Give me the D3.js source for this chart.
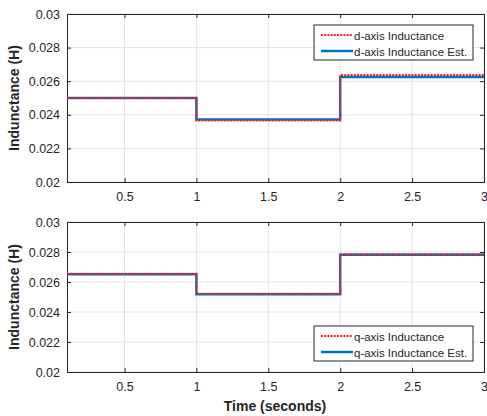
<!DOCTYPE html>
<html>
<head>
<meta charset="utf-8">
<script src="https://cdn.jsdelivr.net/npm/d3@7"></script>
<style>
body { margin: 0; background: #fff; }
svg { font-family: Arial, "Liberation Sans", sans-serif; }
</style>
</head>
<body>
<div id="chart"></div>
<script>
// step times (seconds)
const timeSteps = [0.1, 1, 2, 3];
// d-axis inductance per segment
const dRef = [0.0250, 0.02365, 0.02637];
const dEst = [0.0250, 0.02372, 0.02625];
// q-axis inductance per segment
const qRef = [0.02655, 0.02522, 0.02785];
const qEst = [0.02652, 0.02518, 0.02782];
const xTicks = [0.5, 1, 1.5, 2, 2.5, 3];
const yTicks = [0.02, 0.022, 0.024, 0.026, 0.028, 0.03];

const W = 487, H = 416;
const svg = d3.select("#chart").append("svg").attr("width", W).attr("height", H);

const x = d3.scaleLinear().domain([0.1, 3]).range([67, 484]);

function toSteps(vals) {
	const pts = [];
	vals.forEach((v, i) => {
		pts.push({t: timeSteps[i], v});
		pts.push({t: timeSteps[i + 1], v});
	});
	return pts;
}

function panel(top, bottom, ref, est, names, legendY, showXLabel) {
	const y = d3.scaleLinear().domain([0.02, 0.03]).range([bottom, top]);
	const g = svg.append("g");
	const [x0, x1] = x.range();

	// grid
	g.selectAll(".gx").data(xTicks).join("line")
		.attr("x1", d => x(d)).attr("x2", d => x(d))
		.attr("y1", top).attr("y2", bottom)
		.attr("stroke", "#e3e3e3").attr("stroke-width", 1);
	g.selectAll(".gy").data(yTicks).join("line")
		.attr("x1", x0).attr("x2", x1)
		.attr("y1", d => y(d)).attr("y2", d => y(d))
		.attr("stroke", "#e3e3e3").attr("stroke-width", 1);

	// axes, ticks inward
	const axB = g.append("g").attr("transform", `translate(0,${bottom})`)
		.call(d3.axisBottom(x).tickValues(xTicks).tickSize(-4).tickPadding(10).tickFormat(d3.format("")));
	const axT = g.append("g").attr("transform", `translate(0,${top})`)
		.call(d3.axisTop(x).tickValues(xTicks).tickSize(-4).tickFormat(""));
	const axL = g.append("g").attr("transform", `translate(${x0},0)`)
		.call(d3.axisLeft(y).tickValues(yTicks).tickSize(-4).tickPadding(7).tickFormat(d3.format("")));
	const axR = g.append("g").attr("transform", `translate(${x1},0)`)
		.call(d3.axisRight(y).tickValues(yTicks).tickSize(-4).tickFormat(""));
	for (const a of [axB, axT, axL, axR]) {
		a.selectAll("path").attr("stroke", "#262626").attr("stroke-width", 1);
		a.selectAll("line").attr("stroke", "#262626");
		a.selectAll("text").attr("fill", "#262626").attr("font-size", "12.5px")
			.attr("font-family", "Arial, 'Liberation Sans', sans-serif");
	}

	const line = d3.line().x(d => x(d.t)).y(d => y(d.v));
	g.append("path").datum(toSteps(est)).attr("d", line)
		.attr("fill", "none").attr("stroke", "#0072BD").attr("stroke-width", 2.5);
	g.append("path").datum(toSteps(ref)).attr("d", line)
		.attr("fill", "none").attr("stroke", "#ff1a1a").attr("stroke-width", 1.8)
		.attr("stroke-dasharray", "2,1.2");

	// y label
	svg.append("text")
		.attr("transform", `translate(19,${(top + bottom) / 2}) rotate(-90)`)
		.attr("text-anchor", "middle")
		.attr("font-size", "14px").attr("font-weight", "bold").attr("fill", "#262626")
		.text("Indunctance (H)");

	// legend
	const lx = 314, lw = 159, lh = 35;
	const lg = svg.append("g").attr("transform", `translate(${lx},${legendY})`);
	lg.append("rect").attr("width", lw).attr("height", lh)
		.attr("fill", "#fff").attr("stroke", "#262626").attr("stroke-width", 1);
	lg.append("line").attr("x1", 7).attr("x2", 39).attr("y1", 10).attr("y2", 10)
		.attr("stroke", "#ff1a1a").attr("stroke-width", 1.8).attr("stroke-dasharray", "2,1.2");
	lg.append("line").attr("x1", 7).attr("x2", 39).attr("y1", 26).attr("y2", 26)
		.attr("stroke", "#0072BD").attr("stroke-width", 2.5);
	lg.append("text").attr("x", 40).attr("y", 14.5).attr("font-size", "11.5px").attr("fill", "#262626").text(names[0]);
	lg.append("text").attr("x", 40).attr("y", 30.5).attr("font-size", "11.5px").attr("fill", "#262626").text(names[1]);

	if (showXLabel) {
		svg.append("text").attr("x", 275).attr("y", 411)
			.attr("text-anchor", "middle")
			.attr("font-size", "14px").attr("font-weight", "bold").attr("fill", "#262626")
			.text("Time (seconds)");
	}
}

panel(14, 182, dRef, dEst, ["d-axis Inductance", "d-axis Inductance Est."], 25, false);
panel(222, 372, qRef, qEst, ["q-axis Inductance", "q-axis Inductance Est."], 326, true);
</script>
</body>
</html>
